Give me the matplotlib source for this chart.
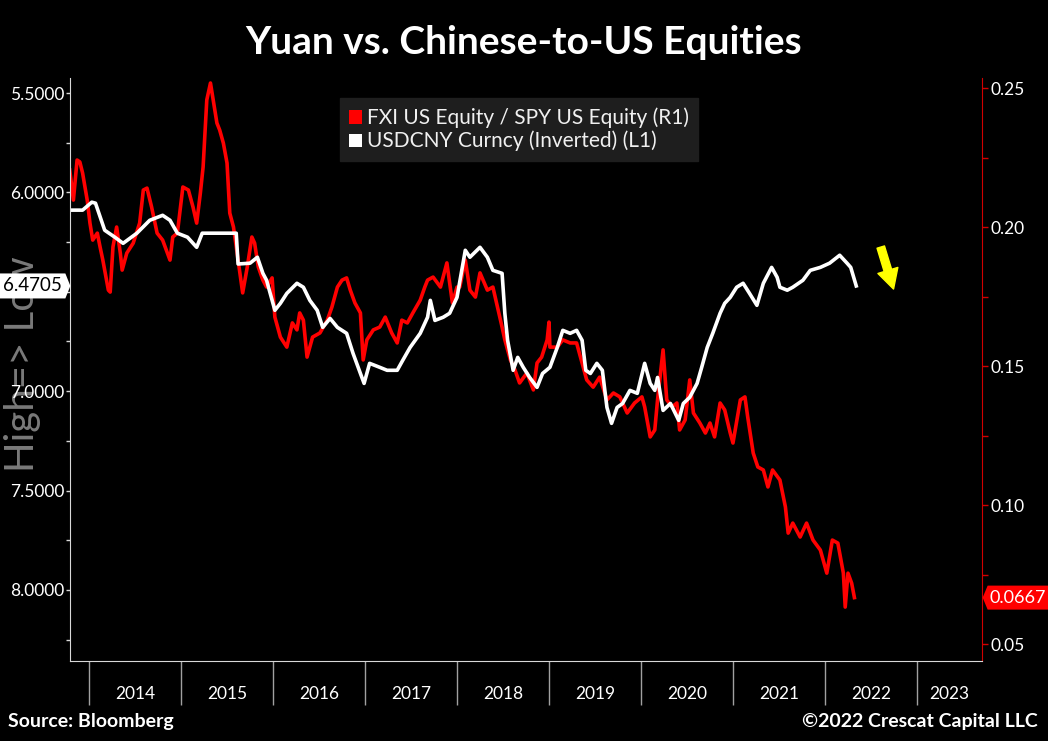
import matplotlib
matplotlib.use("Agg")
import matplotlib.pyplot as plt
import matplotlib.transforms as mtransforms
from matplotlib.patches import Patch
from matplotlib.path import Path
import numpy as np

# ---------------- data ----------------
ratio_dates = [2013.79, 2013.83, 2013.87, 2013.90, 2013.93, 2013.98, 2014.01, 2014.04, 2014.09, 2014.12,
               2014.15, 2014.21, 2014.23, 2014.26, 2014.30, 2014.34, 2014.36, 2014.41, 2014.48, 2014.55,
               2014.59, 2014.63, 2014.68, 2014.74, 2014.80, 2014.88, 2014.91, 2014.96, 2015.02, 2015.08,
               2015.13, 2015.17, 2015.21, 2015.24, 2015.28, 2015.32, 2015.35, 2015.39, 2015.42, 2015.46,
               2015.50, 2015.53, 2015.57, 2015.61, 2015.64, 2015.67, 2015.72, 2015.77, 2015.80, 2015.84,
               2015.89, 2015.93, 2015.99, 2016.02, 2016.08, 2016.15, 2016.21, 2016.26, 2016.29, 2016.33,
               2016.37, 2016.43, 2016.51, 2016.59, 2016.64, 2016.70, 2016.75, 2016.80, 2016.84, 2016.89,
               2016.95, 2016.98, 2017.02, 2017.09, 2017.16, 2017.22, 2017.29, 2017.35, 2017.40, 2017.46,
               2017.52, 2017.60, 2017.65, 2017.68, 2017.74, 2017.82, 2017.89, 2017.95, 2018.00, 2018.03,
               2018.09, 2018.14, 2018.20, 2018.25, 2018.33, 2018.39, 2018.43, 2018.49, 2018.52, 2018.58,
               2018.63, 2018.68, 2018.76, 2018.83, 2018.87, 2018.92, 2018.98, 2019.00, 2019.01, 2019.09,
               2019.15, 2019.23, 2019.30, 2019.36, 2019.41, 2019.48, 2019.55, 2019.63, 2019.70, 2019.77,
               2019.85, 2019.93, 2020.01, 2020.04, 2020.10, 2020.15, 2020.18, 2020.24, 2020.28, 2020.34,
               2020.39, 2020.42, 2020.48, 2020.53, 2020.57, 2020.64, 2020.70, 2020.75, 2020.80, 2020.86,
               2020.91, 2020.97, 2021.00, 2021.08, 2021.13, 2021.16, 2021.22, 2021.27, 2021.33, 2021.38,
               2021.43, 2021.51, 2021.57, 2021.60, 2021.65, 2021.73, 2021.80, 2021.87, 2021.95, 2022.02,
               2022.08, 2022.14, 2022.20, 2022.22, 2022.25, 2022.29, 2022.32]
fxi_spy = [0.2205, 0.2097, 0.2241, 0.2234, 0.2194, 0.2097, 0.2014, 0.1953, 0.1978, 0.1928,
           0.1881, 0.1773, 0.1766, 0.1928, 0.2000, 0.1906, 0.1845, 0.1906, 0.1942, 0.2014,
           0.2133, 0.2140, 0.2072, 0.1978, 0.1953, 0.1881, 0.1964, 0.1978, 0.2144, 0.2133,
           0.2072, 0.2014, 0.2122, 0.2216, 0.2457, 0.2518, 0.2457, 0.2374, 0.2349, 0.2302,
           0.2230, 0.2050, 0.2000, 0.1906, 0.1835, 0.1763, 0.1856, 0.1964, 0.1942, 0.1856,
           0.1809, 0.1784, 0.1817, 0.1676, 0.1604, 0.1568, 0.1655, 0.1630, 0.1691, 0.1665,
           0.1532, 0.1604, 0.1619, 0.1665, 0.1712, 0.1784, 0.1809, 0.1817, 0.1773, 0.1727,
           0.1691, 0.1522, 0.1594, 0.1630, 0.1640, 0.1676, 0.1619, 0.1583, 0.1665, 0.1655,
           0.1691, 0.1737, 0.1784, 0.1809, 0.1820, 0.1784, 0.1871, 0.1727, 0.1784, 0.1784,
           0.1881, 0.1773, 0.1748, 0.1835, 0.1773, 0.1784, 0.1727, 0.1640, 0.1594, 0.1522,
           0.1486, 0.1439, 0.1475, 0.1414, 0.1511, 0.1532, 0.1594, 0.1658, 0.1568, 0.1568,
           0.1594, 0.1583, 0.1583, 0.1511, 0.1450, 0.1424, 0.1460, 0.1378, 0.1403, 0.1389,
           0.1331, 0.1367, 0.1389, 0.1353, 0.1245, 0.1270, 0.1378, 0.1558, 0.1378, 0.1353,
           0.1367, 0.1270, 0.1306, 0.1450, 0.1331, 0.1295, 0.1259, 0.1295, 0.1245, 0.1367,
           0.1342, 0.1259, 0.1223, 0.1378, 0.1389, 0.1317, 0.1187, 0.1137, 0.1126, 0.1065,
           0.1126, 0.1090, 0.0993, 0.0899, 0.0935, 0.0885, 0.0935, 0.0874, 0.0838, 0.0755,
           0.0874, 0.0863, 0.0755, 0.0633, 0.0755, 0.0719, 0.0667]

cny_dates = [2013.79, 2013.93, 2014.03, 2014.07, 2014.17, 2014.28, 2014.37, 2014.52, 2014.66, 2014.80,
             2014.88, 2014.96, 2015.07, 2015.17, 2015.23, 2015.32, 2015.57, 2015.60, 2015.62, 2015.75,
             2015.83, 2015.89, 2015.93, 2016.02, 2016.08, 2016.15, 2016.26, 2016.33, 2016.40, 2016.48,
             2016.54, 2016.62, 2016.70, 2016.80, 2016.87, 2016.95, 2016.99, 2017.05, 2017.16, 2017.24,
             2017.35, 2017.41, 2017.49, 2017.60, 2017.68, 2017.71, 2017.76, 2017.85, 2017.92, 2018.00,
             2018.09, 2018.14, 2018.25, 2018.33, 2018.39, 2018.49, 2018.52, 2018.55, 2018.61, 2018.66,
             2018.72, 2018.79, 2018.87, 2018.93, 2019.01, 2019.09, 2019.15, 2019.23, 2019.30, 2019.36,
             2019.40, 2019.45, 2019.52, 2019.58, 2019.63, 2019.68, 2019.74, 2019.80, 2019.88, 2019.96,
             2020.04, 2020.10, 2020.15, 2020.18, 2020.24, 2020.32, 2020.41, 2020.46, 2020.53, 2020.61,
             2020.66, 2020.72, 2020.78, 2020.86, 2020.91, 2020.97, 2021.04, 2021.11, 2021.18, 2021.26,
             2021.33, 2021.42, 2021.48, 2021.51, 2021.59, 2021.65, 2021.76, 2021.84, 2021.95, 2022.05,
             2022.16, 2022.24, 2022.28, 2022.34]
usdcny = [6.089, 6.089, 6.049, 6.054, 6.190, 6.225, 6.256, 6.205, 6.140, 6.115,
          6.140, 6.205, 6.225, 6.276, 6.205, 6.205, 6.205, 6.205, 6.360, 6.356,
          6.326, 6.407, 6.442, 6.593, 6.558, 6.508, 6.457, 6.477, 6.543, 6.593,
          6.679, 6.634, 6.679, 6.709, 6.810, 6.911, 6.961, 6.860, 6.880, 6.895,
          6.895, 6.845, 6.780, 6.709, 6.628, 6.543, 6.644, 6.628, 6.608, 6.528,
          6.291, 6.326, 6.276, 6.326, 6.392, 6.407, 6.608, 6.744, 6.895, 6.830,
          6.880, 6.931, 6.981, 6.911, 6.880, 6.780, 6.694, 6.709, 6.694, 6.744,
          6.895, 6.911, 6.860, 6.895, 7.082, 7.162, 7.082, 7.062, 6.996, 7.011,
          6.860, 6.961, 6.996, 6.931, 7.097, 7.062, 7.147, 7.062, 7.031, 6.961,
          6.880, 6.780, 6.709, 6.608, 6.558, 6.528, 6.477, 6.457, 6.508, 6.568,
          6.457, 6.377, 6.427, 6.477, 6.492, 6.477, 6.442, 6.392, 6.377, 6.356,
          6.316, 6.356, 6.377, 6.4705]

years = [2014, 2015, 2016, 2017, 2018, 2019, 2020, 2021, 2022, 2023]
left_ticks = [5.5, 6.0, 6.5, 7.0, 7.5, 8.0]
right_ticks = [0.05, 0.10, 0.15, 0.20, 0.25]
series_names = ["FXI US Equity / SPY US Equity (R1)", "USDCNY Curncy (Inverted) (L1)"]

FONT = "Lato"


class TagBox:
    """Label box with a small pointed tip on one side (Bloomberg style)."""
    def __init__(self, side, pad_out, pad_in, pad_y, tip):
        self.side, self.pad_out, self.pad_in, self.pad_y, self.tip = side, pad_out, pad_in, pad_y, tip

    def __call__(self, x0, y0, width, height, mutation_size):
        y_lo, y_hi = y0 - self.pad_y, y0 + height + self.pad_y
        ym = (y_lo + y_hi) / 2
        if self.side == "right":
            xl, xr = x0 - self.pad_out, x0 + width + self.pad_in
            verts = [(xl, y_lo), (xr, y_lo), (xr + self.tip, ym), (xr, y_hi), (xl, y_hi), (xl, y_lo)]
        else:
            xl, xr = x0 - self.pad_in, x0 + width + self.pad_out
            verts = [(xl, y_lo), (xr, y_lo), (xr, y_hi), (xl, y_hi), (xl - self.tip, ym), (xl, y_lo)]
        codes = [Path.MOVETO] + [Path.LINETO] * 4 + [Path.CLOSEPOLY]
        return Path(verts, codes)


# ---------------- figure ----------------
fig = plt.figure(figsize=(10.48, 7.41), dpi=100, facecolor="black")
ax = fig.add_axes([70/1048, 1-661/741, 912/1048, 583/741])
ax2 = ax.twinx()
ax.set_zorder(2)
ax.patch.set_visible(False)
ax2.set_facecolor("black")

xlim = (2013.793, 2023.707)
ax.set_xlim(*xlim)
ax.set_ylim(8.358, 5.424)
ax2.set_ylim(0.0439, 0.2536)

ax2.plot(ratio_dates, fxi_spy, color="#ff0000", lw=2.6, solid_joinstyle="round")
ax.plot(cny_dates, usdcny, color="white", lw=2.6, solid_joinstyle="round")

# spines
for a in (ax, ax2):
    a.spines["top"].set_visible(False)
ax.spines["left"].set_color("#d8d8d8")
ax.spines["bottom"].set_color("#d8d8d8")
ax.spines["right"].set_visible(False)
ax2.spines["right"].set_color("#d00000")
ax2.spines["left"].set_visible(False)
ax2.spines["bottom"].set_visible(False)

# left y ticks
ax.set_yticks(left_ticks)
ax.set_yticklabels([f"{v:.4f}" for v in left_ticks])
ax.set_yticks(np.arange(5.75, 8.3, 0.5), minor=True)
ax.tick_params(axis="y", which="both", colors="#d8d8d8", length=3, width=1,
               labelsize=12.5, labelcolor="white", pad=1)
# right y ticks
ax2.set_yticks(right_ticks)
ax2.set_yticklabels([f"{v:.2f}" for v in right_ticks])
ax2.set_yticks(np.arange(0.075, 0.25, 0.05), minor=True)
ax2.tick_params(axis="y", which="both", colors="#d00000", length=4, width=1,
                labelsize=12.5, labelcolor="white", pad=2)

# x ticks: year boundaries as long lines, labels centred in each year span
ax.set_xticks(years)
ax.set_xticklabels([])
ax.tick_params(axis="x", which="major", length=32, width=1, colors="#a0a0a0")
mids = [(max(y, xlim[0]) + min(y + 1, xlim[1])) / 2 for y in years]
ax.set_xticks(mids, minor=True)
ax.set_xticklabels([str(y) for y in years], minor=True)
ax.tick_params(axis="x", which="minor", length=0, labelsize=12.5, labelcolor="white", pad=18)

for lab in ax.get_yticklabels() + ax2.get_yticklabels() + ax.get_xticklabels(minor=True):
    lab.set_fontfamily(FONT)

# legend
handles = [Patch(facecolor="#ff0000", edgecolor="none"), Patch(facecolor="white", edgecolor="none")]
leg = ax.legend(handles, series_names, loc="upper left", bbox_to_anchor=(0.296, 0.965),
                borderaxespad=0, frameon=True, fancybox=False, facecolor="#1e1e1e",
                edgecolor="#1e1e1e", framealpha=1, handlelength=0.6, handleheight=0.6,
                handletextpad=0.25, labelspacing=0.12, borderpad=0.45,
                prop={"family": FONT, "size": 15})
for t in leg.get_texts():
    t.set_color("#f0f0f0")

# last value labels
blend_l = mtransforms.blended_transform_factory(ax.transAxes, ax.transData)
ax.annotate(f"{usdcny[-1]:.4f}", xy=(0, usdcny[-1]), xycoords=blend_l,
            xytext=(-5.5, 0), textcoords="offset points", ha="right", va="center",
            fontsize=13.5, fontfamily=FONT, color="black", annotation_clip=False,
            bbox=dict(boxstyle=TagBox("right", 9, 3, 4, 5), fc="white", ec="none"), zorder=10)
blend_r = mtransforms.blended_transform_factory(ax2.transAxes, ax2.transData)
ax2.annotate(f"{fxi_spy[-1]:.4f}", xy=(1, fxi_spy[-1]), xycoords=blend_r,
             xytext=(5.5, 0), textcoords="offset points", ha="left", va="center",
             fontsize=13, fontfamily=FONT, color="white", annotation_clip=False,
             bbox=dict(boxstyle=TagBox("left", 4, 2, 4, 5), fc="#ff0000", ec="none"), zorder=10)

# yellow arrow
ax.annotate("", xy=(0.903, 0.638), xycoords="axes fraction",
            xytext=(0.889, 0.710), textcoords="axes fraction",
            arrowprops=dict(arrowstyle="simple,head_length=0.7,head_width=0.75,tail_width=0.28",
                            fc="#ffff00", ec="#ffff00", mutation_scale=20, shrinkA=0, shrinkB=0))

# texts
fig.text(0.5, 0.943, "Yuan vs. Chinese-to-US Equities", ha="center", va="center",
         color="white", fontsize=28, fontweight="bold", fontfamily=FONT)
fig.text(0.021, 0.509, "High=> Low", rotation=90, ha="center", va="center",
         color="#7a7a7a", fontsize=29, fontfamily=FONT, zorder=-1)
fig.text(8/1048, 0.026, "Source: Bloomberg", ha="left", va="center",
         color="white", fontsize=14, fontweight="bold", fontfamily=FONT)
fig.text(1038/1048, 0.026, "\u00a92022 Crescat Capital LLC", ha="right", va="center",
         color="white", fontsize=14, fontweight="bold", fontfamily=FONT)

fig.savefig("out.png", dpi=100, facecolor="black")
